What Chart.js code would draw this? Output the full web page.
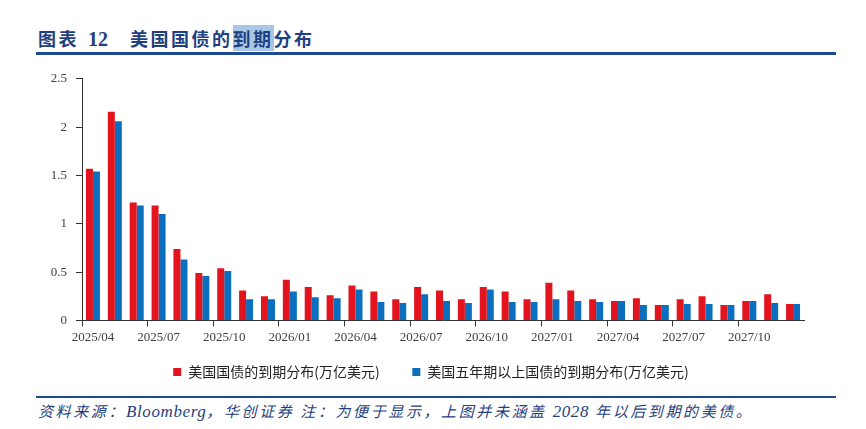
<!DOCTYPE html>
<html>
<head>
<meta charset="utf-8">
<script src="https://cdn.jsdelivr.net/npm/chart.js@4/dist/chart.umd.min.js"></script>
<style>
  body { margin: 0; background: #fff; width: 866px; height: 429px; position: relative; overflow: hidden; }
  .title { position: absolute; left: 38px; top: 25px; font-family: "Noto Sans CJK SC", serif; font-weight: bold; font-size: 18px; color: #1f3f7f; letter-spacing: 2.5px; white-space: nowrap; }
  .title .num { font-family: "Liberation Serif", serif; font-size: 20px; margin: 0 22px 0 9px; letter-spacing: 0; }
  .title .hl { background: #a8c7e6; }
  .rule { position: absolute; left: 36px; width: 800px; height: 3px; background: #1f4a8f; }
  .foot { position: absolute; left: 38px; top: 400px; font-family: "Noto Sans CJK SC", serif; font-style: italic; font-size: 15px; letter-spacing: 2.6px; color: #1f3f7f; white-space: nowrap; }
  .foot .lat { font-family: "Liberation Serif", serif; font-size: 17px; letter-spacing: 0.6px; }
  #wrap { position: absolute; left: 0; top: 62px; width: 866px; height: 327px; }
</style>
</head>
<body>
<div class="title">图表<span class="num">12</span>美国国债的<span class="hl">到期</span>分布</div>
<div class="rule" style="top:52px"></div>
<div id="wrap"><canvas id="bondChart"></canvas></div>
<div class="rule" style="top:396px;height:2px"></div>
<div class="foot">资料来源：<span class="lat">Bloomberg</span>，华创证券 注：为便于显示，上图并未涵盖 <span class="lat">2028</span> 年以后到期的美债。</div>
<script>
const months = [
  '2025/04', '2025/05', '2025/06', '2025/07', '2025/08', '2025/09', '2025/10', '2025/11', '2025/12',
  '2026/01', '2026/02', '2026/03', '2026/04', '2026/05', '2026/06', '2026/07', '2026/08', '2026/09',
  '2026/10', '2026/11', '2026/12', '2027/01', '2027/02', '2027/03', '2027/04', '2027/05', '2027/06',
  '2027/07', '2027/08', '2027/09', '2027/10', '2027/11', '2027/12'
];
const allTreasuries = [
  1.57, 2.16, 1.22, 1.19, 0.74, 0.49, 0.54, 0.31, 0.25,
  0.42, 0.345, 0.26, 0.36, 0.30, 0.22, 0.345, 0.31, 0.22,
  0.345, 0.30, 0.22, 0.39, 0.31, 0.22, 0.20, 0.23, 0.16,
  0.22, 0.25, 0.16, 0.20, 0.27, 0.17
];
const fiveYearPlus = [
  1.54, 2.06, 1.19, 1.10, 0.63, 0.46, 0.51, 0.22, 0.22,
  0.30, 0.24, 0.23, 0.32, 0.19, 0.18, 0.27, 0.20, 0.18,
  0.32, 0.19, 0.19, 0.22, 0.20, 0.19, 0.20, 0.16, 0.16,
  0.17, 0.17, 0.16, 0.20, 0.18, 0.17
];
const yTicks = [0, 0.5, 1, 1.5, 2, 2.5];

// nudge the legend right so it sits where the source has it
const legendShift = {
  id: 'legendShift',
  afterLayout(chart) {
    chart.legend.left += 29;
    chart.legend.right += 29;
  }
};

const ctx = document.getElementById('bondChart').getContext('2d');
new Chart(ctx, {
  type: 'bar',
  data: {
    labels: months,
    datasets: [
      {
        label: '美国国债的到期分布(万亿美元)',
        data: allTreasuries,
        backgroundColor: '#e3141d',
        barPercentage: 1,
        categoryPercentage: 0.64
      },
      {
        label: '美国五年期以上国债的到期分布(万亿美元)',
        data: fiveYearPlus,
        backgroundColor: '#0b6fbf',
        barPercentage: 1,
        categoryPercentage: 0.64
      }
    ]
  },
  plugins: [legendShift],
  options: {
    responsive: true,
    maintainAspectRatio: false,
    animation: false,
    layout: { padding: { left: 0, right: 62, top: 10, bottom: 0 } },
    plugins: {
      legend: {
        position: 'bottom',
        labels: {
          boxWidth: 8, boxHeight: 8, padding: 17,
          color: '#222',
          font: { family: '"Noto Sans CJK SC"', size: 14 },
          generateLabels: (chart) => Chart.defaults.plugins.legend.labels.generateLabels(chart)
            .map((l, i) => (i === 0 ? { ...l, text: l.text + '     ' } : l))
        }
      },
      tooltip: { enabled: false }
    },
    scales: {
      x: {
        offset: true,
        grid: {
          offset: true,
          drawOnChartArea: false,
          tickLength: 6,
          color: (c) => (c.index % 3 === 0 ? '#333' : 'rgba(0,0,0,0)')
        },
        border: { color: '#333', width: 1 },
        ticks: {
          autoSkip: false, maxRotation: 0, minRotation: 0,
          color: '#404040',
          font: { family: '"Liberation Serif"', size: 13 },
          callback: (v, i) => (i % 3 === 0 ? months[i] : '')
        }
      },
      y: {
        min: 0, max: 2.5,
        afterBuildTicks: (s) => { s.ticks = yTicks.map(v => ({ value: v })); },
        afterFit: (s) => { s.width = 82; },
        grid: { drawOnChartArea: false, tickLength: 6, color: '#333' },
        border: { color: '#333', width: 1 },
        ticks: {
          padding: 9,
          color: '#404040',
          font: { family: '"Liberation Serif"', size: 13 },
          callback: (v) => String(v)
        }
      }
    }
  }
});
</script>
</body>
</html>
